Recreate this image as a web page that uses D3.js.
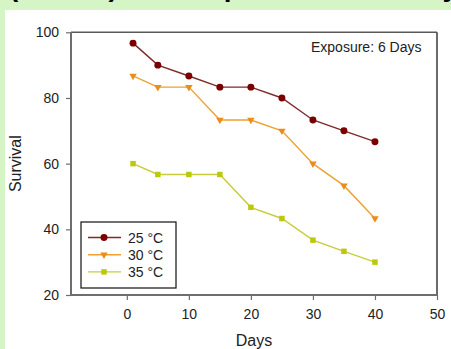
<!DOCTYPE html>
<html><head><meta charset="utf-8">
<script src="https://cdn.jsdelivr.net/npm/d3@7"></script>
<style>
html,body{margin:0;padding:0;background:#d5f5c6;}
svg{display:block;font-family:"Liberation Sans",Arial,sans-serif;}
</style></head>
<body>
<svg id="c" width="451" height="349"></svg>
<script>
const days = [1, 5, 10, 15, 20, 25, 30, 35, 40];
const s25 = [96.7, 90, 86.7, 83.3, 83.3, 80, 73.3, 70, 66.7];
const s30 = [86.7, 83.3, 83.3, 73.3, 73.3, 70, 60, 53.3, 43.3];
const s35 = [60, 56.7, 56.7, 56.7, 46.7, 43.3, 36.7, 33.3, 30];
const seriesNames = ["25 °C", "30 °C", "35 °C"];
const xTicks = [0, 10, 20, 30, 40, 50];
const yTicks = [20, 40, 60, 80, 100];

const svg = d3.select("#c");
svg.append("rect").attr("x", 0).attr("y", 0).attr("width", 451).attr("height", 349).attr("fill", "#d5f5c6");

// cut-off title (only its descenders show above the white panel)
svg.append("text").attr("x", 9).attr("y", -4).attr("font-weight", "bold").attr("font-size", 28)
  .attr("fill", "#000").text("(Larvae) All Temperature Test Days");

svg.append("rect").attr("x", 5).attr("y", 10).attr("width", 446).attr("height", 339).attr("fill", "#fff");

const L = 71, R = 437, T = 32.3, B = 295;
const x = d3.scaleLinear().domain([-9, 50]).range([L, R]);
const y = d3.scaleLinear().domain([20, 100]).range([B, T]);

const axisColor = "#6e6e6e";
// frame top/right
svg.append("line").attr("x1", L).attr("x2", R).attr("y1", T).attr("y2", T).attr("stroke", "#5a5a5a").attr("stroke-width", 1.5);
svg.append("line").attr("x1", R).attr("x2", R).attr("y1", T).attr("y2", B).attr("stroke", "#3a3a3a").attr("stroke-width", 1.5);

const gx = svg.append("g").attr("transform", `translate(0,${B})`)
  .call(d3.axisBottom(x).tickValues(xTicks).tickSize(5).tickPadding(9));
const gy = svg.append("g").attr("transform", `translate(${L},0)`)
  .call(d3.axisLeft(y).tickValues(yTicks).tickSize(5).tickPadding(7));
[gx, gy].forEach(g => {
  g.select(".domain").attr("stroke", axisColor).attr("stroke-width", 2);
  g.selectAll(".tick line").attr("stroke", axisColor).attr("stroke-width", 1.2);
  g.selectAll(".tick text").attr("fill", "#222").attr("font-size", 14)
    .attr("font-family", "Liberation Sans, Arial, sans-serif");
});
gx.select(".domain").attr("d", `M${L},0H${R}`);
gy.select(".domain").attr("d", `M0,${B}V${T}`);

svg.append("text").attr("x", (L + R) / 2).attr("y", 346).attr("text-anchor", "middle")
  .attr("font-size", 16).attr("fill", "#222").text("Days");
svg.append("text").attr("transform", `translate(21,${(T + B) / 2}) rotate(-90)`).attr("text-anchor", "middle")
  .attr("font-size", 16).attr("fill", "#222").text("Survival");

svg.append("text").attr("x", 311).attr("y", 52).attr("font-size", 14).attr("fill", "#222").text("Exposure: 6 Days");

const series = [
  {name: seriesNames[0], vals: s25, line: "#7f2a2a", fill: "#7a0000", shape: d3.symbolCircle, size: 38},
  {name: seriesNames[1], vals: s30, line: "#f0a030", fill: "#ec8c1c", shape: d3.symbolTriangle, size: 24, rot: 180},
  {name: seriesNames[2], vals: s35, line: "#c9cc3a", fill: "#bcc80c", shape: d3.symbolSquare, size: 30}
];
const lineGen = d3.line().x(d => x(d[0])).y(d => y(d[1]));
series.forEach(s => {
  const pts = days.map((d, i) => [d, s.vals[i]]);
  svg.append("path").attr("d", lineGen(pts)).attr("fill", "none").attr("stroke", s.line).attr("stroke-width", 1.4);
  svg.selectAll(null).data(pts).enter().append("path")
    .attr("d", d3.symbol().type(s.shape).size(s.size))
    .attr("transform", d => `translate(${x(d[0])},${y(d[1])}) rotate(${s.rot || 0})`)
    .attr("fill", s.fill);
});

// legend
const lg = svg.append("g");
lg.append("rect").attr("x", 81).attr("y", 222).attr("width", 95).attr("height", 66)
  .attr("fill", "#fff").attr("stroke", "#111").attr("stroke-width", 1.2);
series.forEach((s, i) => {
  const yy = 237.5 + i * 17.2;
  lg.append("line").attr("x1", 88).attr("x2", 121).attr("y1", yy).attr("y2", yy).attr("stroke", s.line).attr("stroke-width", 1.4);
  lg.append("path").attr("d", d3.symbol().type(s.shape).size(s.size))
    .attr("transform", `translate(104,${yy}) rotate(${s.rot || 0})`).attr("fill", s.fill);
  lg.append("text").attr("x", 128).attr("y", yy + 5).attr("font-size", 14).attr("fill", "#222").text(s.name);
});
</script>
</body></html>
